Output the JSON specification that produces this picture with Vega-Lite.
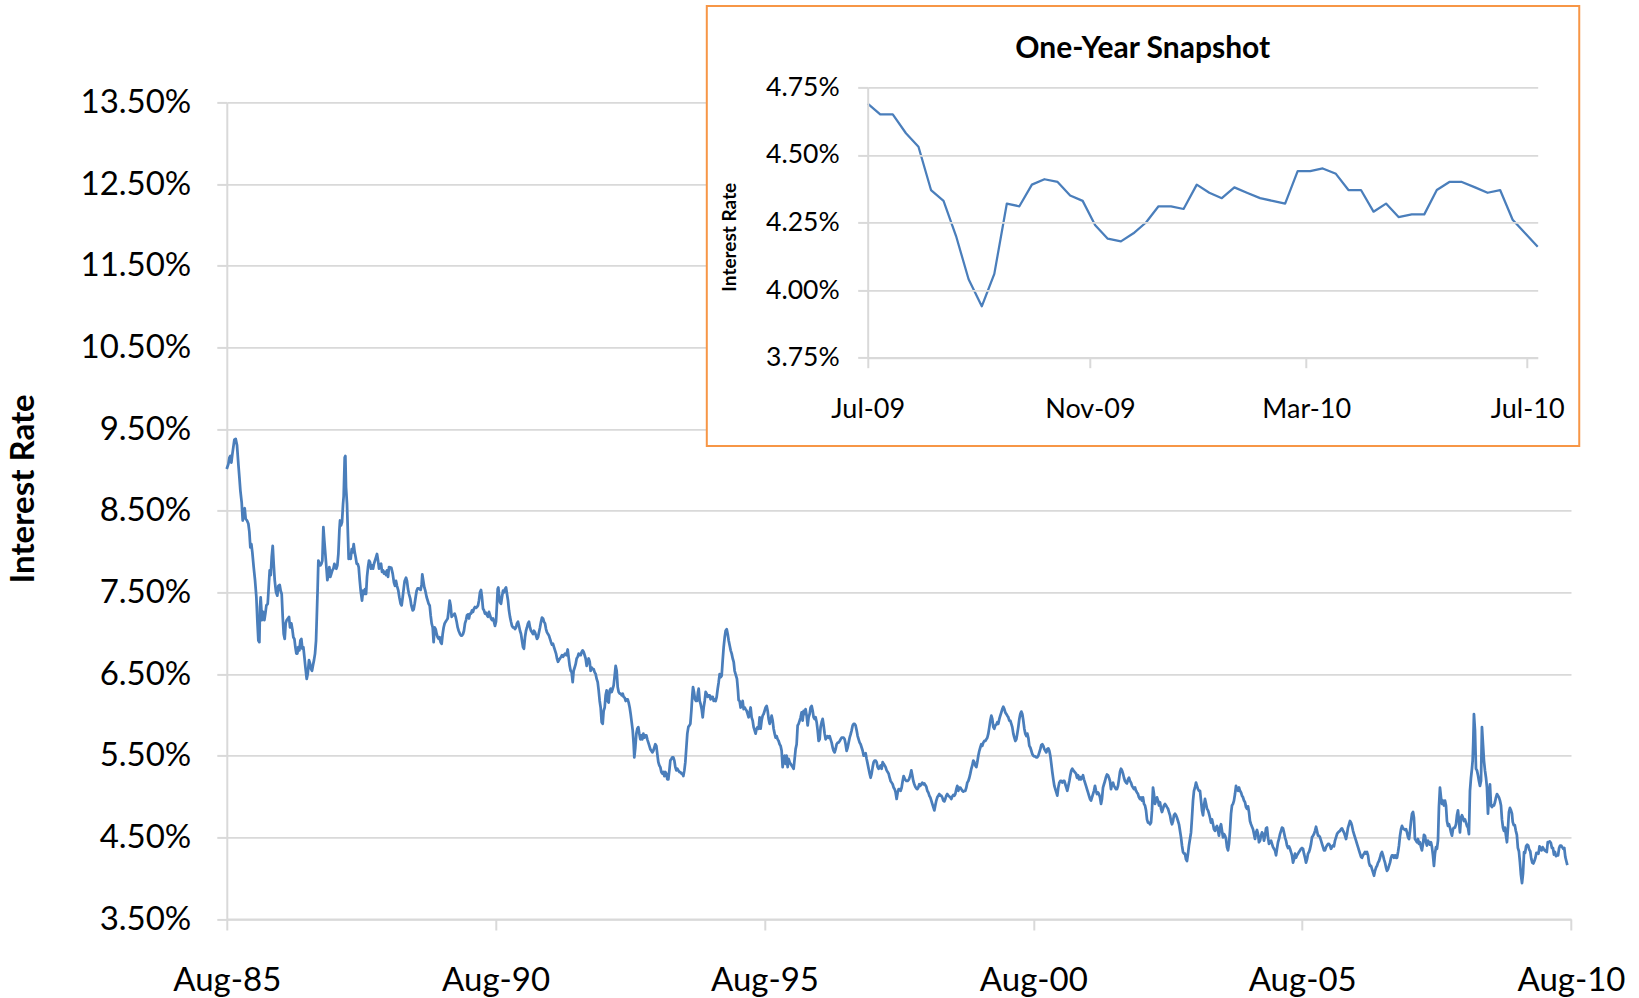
{
"$schema": "https://vega.github.io/schema/vega-lite/v6.json",
"width": 1344.2,
"height": 816.6,
"autosize": {"type": "none"},
"padding": {"left": 226.8, "top": 102.4, "right": 68, "bottom": 79},
"background": "white",
"config": {"view": {"stroke": null}, "axis": {"labelFont": "Lato", "titleFont": "Lato", "labelColor": "#000000", "titleColor": "#000000", "domainColor": "#D9D9D9", "tickColor": "#D9D9D9", "gridColor": "#D9D9D9"}},
"datasets": {"rates": [
{"t":1985.581,"r":9.01},{"t":1985.612,"r":9.07},{"t":1985.631,"r":9.15},{"t":1985.649,"r":9.17},{"t":1985.668,"r":9.09},{"t":1985.686,"r":9.19},{"t":1985.724,"r":9.37},{"t":1985.748,"r":9.38},{"t":1985.773,"r":9.30},{"t":1985.798,"r":9.07},{"t":1985.817,"r":8.91},{"t":1985.835,"r":8.75},{"t":1985.86,"r":8.60},{"t":1985.879,"r":8.38},{"t":1985.897,"r":8.50},{"t":1985.916,"r":8.53},{"t":1985.934,"r":8.40},{"t":1985.959,"r":8.38},{"t":1985.984,"r":8.34},{"t":1986.003,"r":8.24},{"t":1986.021,"r":8.05},{"t":1986.04,"r":8.09},{"t":1986.058,"r":7.99},{"t":1986.083,"r":7.81},{"t":1986.108,"r":7.65},{"t":1986.133,"r":7.44},{"t":1986.151,"r":7.16},{"t":1986.17,"r":6.91},{"t":1986.189,"r":6.89},{"t":1986.201,"r":7.32},{"t":1986.213,"r":7.44},{"t":1986.238,"r":7.16},{"t":1986.257,"r":7.26},{"t":1986.282,"r":7.16},{"t":1986.3,"r":7.24},{"t":1986.319,"r":7.34},{"t":1986.344,"r":7.36},{"t":1986.362,"r":7.56},{"t":1986.381,"r":7.77},{"t":1986.4,"r":7.71},{"t":1986.418,"r":7.93},{"t":1986.437,"r":8.07},{"t":1986.455,"r":7.85},{"t":1986.474,"r":7.65},{"t":1986.499,"r":7.50},{"t":1986.523,"r":7.46},{"t":1986.542,"r":7.58},{"t":1986.567,"r":7.59},{"t":1986.585,"r":7.52},{"t":1986.604,"r":7.48},{"t":1986.623,"r":7.20},{"t":1986.641,"r":6.99},{"t":1986.66,"r":6.93},{"t":1986.678,"r":7.12},{"t":1986.697,"r":7.16},{"t":1986.722,"r":7.18},{"t":1986.74,"r":7.20},{"t":1986.759,"r":7.07},{"t":1986.784,"r":7.12},{"t":1986.802,"r":7.05},{"t":1986.821,"r":6.95},{"t":1986.84,"r":6.93},{"t":1986.858,"r":6.83},{"t":1986.877,"r":6.75},{"t":1986.895,"r":6.75},{"t":1986.914,"r":6.83},{"t":1986.933,"r":6.79},{"t":1986.951,"r":6.91},{"t":1986.97,"r":6.93},{"t":1986.988,"r":6.81},{"t":1987.007,"r":6.83},{"t":1987.026,"r":6.71},{"t":1987.044,"r":6.59},{"t":1987.069,"r":6.44},{"t":1987.088,"r":6.50},{"t":1987.112,"r":6.67},{"t":1987.131,"r":6.63},{"t":1987.15,"r":6.56},{"t":1987.168,"r":6.54},{"t":1987.187,"r":6.61},{"t":1987.205,"r":6.67},{"t":1987.224,"r":6.75},{"t":1987.243,"r":6.91},{"t":1987.255,"r":7.16},{"t":1987.273,"r":7.56},{"t":1987.286,"r":7.89},{"t":1987.304,"r":7.85},{"t":1987.323,"r":7.83},{"t":1987.342,"r":7.85},{"t":1987.36,"r":7.89},{"t":1987.379,"r":8.30},{"t":1987.397,"r":8.13},{"t":1987.416,"r":7.97},{"t":1987.435,"r":7.81},{"t":1987.453,"r":7.65},{"t":1987.472,"r":7.71},{"t":1987.491,"r":7.81},{"t":1987.509,"r":7.69},{"t":1987.528,"r":7.73},{"t":1987.546,"r":7.77},{"t":1987.565,"r":7.79},{"t":1987.584,"r":7.85},{"t":1987.602,"r":7.81},{"t":1987.621,"r":7.79},{"t":1987.639,"r":7.83},{"t":1987.658,"r":7.97},{"t":1987.677,"r":8.26},{"t":1987.689,"r":8.38},{"t":1987.708,"r":8.32},{"t":1987.726,"r":8.36},{"t":1987.745,"r":8.58},{"t":1987.757,"r":8.68},{"t":1987.776,"r":9.15},{"t":1987.788,"r":9.17},{"t":1987.8,"r":8.79},{"t":1987.819,"r":8.58},{"t":1987.837,"r":8.18},{"t":1987.85,"r":7.91},{"t":1987.868,"r":7.97},{"t":1987.887,"r":7.91},{"t":1987.906,"r":8.03},{"t":1987.925,"r":7.99},{"t":1987.943,"r":8.09},{"t":1987.962,"r":7.99},{"t":1987.98,"r":7.93},{"t":1987.999,"r":7.85},{"t":1988.018,"r":7.85},{"t":1988.036,"r":7.81},{"t":1988.055,"r":7.65},{"t":1988.073,"r":7.52},{"t":1988.098,"r":7.40},{"t":1988.117,"r":7.52},{"t":1988.135,"r":7.48},{"t":1988.154,"r":7.54},{"t":1988.173,"r":7.48},{"t":1988.191,"r":7.69},{"t":1988.21,"r":7.81},{"t":1988.228,"r":7.89},{"t":1988.247,"r":7.87},{"t":1988.266,"r":7.79},{"t":1988.284,"r":7.83},{"t":1988.303,"r":7.79},{"t":1988.321,"r":7.85},{"t":1988.34,"r":7.89},{"t":1988.359,"r":7.93},{"t":1988.377,"r":7.97},{"t":1988.396,"r":7.89},{"t":1988.414,"r":7.79},{"t":1988.433,"r":7.83},{"t":1988.452,"r":7.85},{"t":1988.47,"r":7.75},{"t":1988.489,"r":7.77},{"t":1988.507,"r":7.73},{"t":1988.526,"r":7.75},{"t":1988.545,"r":7.71},{"t":1988.563,"r":7.77},{"t":1988.582,"r":7.69},{"t":1988.6,"r":7.81},
{"t":1988.643,"r":7.80},{"t":1988.668,"r":7.73},{"t":1988.692,"r":7.62},{"t":1988.711,"r":7.58},{"t":1988.73,"r":7.64},{"t":1988.748,"r":7.58},{"t":1988.773,"r":7.52},{"t":1988.792,"r":7.44},{"t":1988.816,"r":7.36},{"t":1988.835,"r":7.34},{"t":1988.854,"r":7.44},{"t":1988.872,"r":7.54},{"t":1988.891,"r":7.64},{"t":1988.916,"r":7.68},{"t":1988.934,"r":7.64},{"t":1988.953,"r":7.54},{"t":1988.971,"r":7.48},{"t":1988.996,"r":7.42},{"t":1989.015,"r":7.34},{"t":1989.04,"r":7.28},{"t":1989.058,"r":7.29},{"t":1989.077,"r":7.36},{"t":1989.095,"r":7.44},{"t":1989.114,"r":7.52},{"t":1989.133,"r":7.55},{"t":1989.151,"r":7.55},{"t":1989.17,"r":7.54},{"t":1989.188,"r":7.53},{"t":1989.207,"r":7.60},{"t":1989.219,"r":7.72},{"t":1989.238,"r":7.64},{"t":1989.257,"r":7.56},{"t":1989.275,"r":7.52},{"t":1989.3,"r":7.44},{"t":1989.319,"r":7.40},{"t":1989.337,"r":7.36},{"t":1989.356,"r":7.34},{"t":1989.374,"r":7.22},{"t":1989.393,"r":7.12},{"t":1989.412,"r":7.07},{"t":1989.43,"r":6.89},{"t":1989.449,"r":7.07},{"t":1989.467,"r":7.05},{"t":1989.486,"r":6.99},{"t":1989.505,"r":6.95},{"t":1989.523,"r":6.93},{"t":1989.542,"r":6.95},{"t":1989.56,"r":6.89},{"t":1989.579,"r":6.87},{"t":1989.598,"r":6.99},{"t":1989.616,"r":7.07},{"t":1989.635,"r":7.12},{"t":1989.653,"r":7.14},{"t":1989.672,"r":7.16},{"t":1989.691,"r":7.18},{"t":1989.709,"r":7.28},{"t":1989.728,"r":7.40},{"t":1989.746,"r":7.34},{"t":1989.765,"r":7.20},{"t":1989.784,"r":7.22},{"t":1989.802,"r":7.22},{"t":1989.821,"r":7.24},{"t":1989.839,"r":7.20},{"t":1989.858,"r":7.14},{"t":1989.877,"r":7.07},{"t":1989.895,"r":7.03},{"t":1989.92,"r":6.99},{"t":1989.939,"r":6.97},{"t":1989.957,"r":6.97},{"t":1989.976,"r":6.99},{"t":1989.994,"r":7.03},{"t":1990.013,"r":7.12},{"t":1990.032,"r":7.16},{"t":1990.05,"r":7.22},{"t":1990.069,"r":7.23},{"t":1990.087,"r":7.18},{"t":1990.106,"r":7.24},{"t":1990.125,"r":7.24},{"t":1990.143,"r":7.28},{"t":1990.162,"r":7.26},{"t":1990.18,"r":7.30},{"t":1990.199,"r":7.32},{"t":1990.218,"r":7.31},{"t":1990.236,"r":7.32},{"t":1990.255,"r":7.34},{"t":1990.273,"r":7.40},{"t":1990.292,"r":7.50},{"t":1990.311,"r":7.53},{"t":1990.329,"r":7.44},{"t":1990.348,"r":7.30},{"t":1990.366,"r":7.28},{"t":1990.385,"r":7.24},{"t":1990.404,"r":7.25},{"t":1990.422,"r":7.22},{"t":1990.441,"r":7.20},{"t":1990.459,"r":7.26},{"t":1990.478,"r":7.22},{"t":1990.497,"r":7.18},{"t":1990.515,"r":7.16},{"t":1990.534,"r":7.18},{"t":1990.552,"r":7.14},{"t":1990.571,"r":7.09},{"t":1990.59,"r":7.14},{"t":1990.608,"r":7.36},{"t":1990.621,"r":7.54},{"t":1990.633,"r":7.56},{"t":1990.645,"r":7.48},{"t":1990.664,"r":7.38},{"t":1990.683,"r":7.36},{"t":1990.701,"r":7.44},{"t":1990.72,"r":7.52},{"t":1990.738,"r":7.50},{"t":1990.757,"r":7.54},{"t":1990.776,"r":7.56},{"t":1990.794,"r":7.48},{"t":1990.813,"r":7.40},{"t":1990.831,"r":7.28},{"t":1990.85,"r":7.20},{"t":1990.869,"r":7.14},{"t":1990.887,"r":7.09},{"t":1990.906,"r":7.07},{"t":1990.924,"r":7.07},{"t":1990.943,"r":7.05},{"t":1990.962,"r":7.07},{"t":1990.98,"r":7.12},{"t":1990.999,"r":7.14},{"t":1991.017,"r":7.09},{"t":1991.036,"r":7.03},{"t":1991.055,"r":6.99},{"t":1991.073,"r":6.91},{"t":1991.092,"r":6.83},{"t":1991.11,"r":6.81},{"t":1991.129,"r":6.95},{"t":1991.148,"r":7.03},{"t":1991.166,"r":7.07},{"t":1991.185,"r":7.12},{"t":1991.203,"r":7.14},{"t":1991.222,"r":7.07},{"t":1991.241,"r":7.03},{"t":1991.259,"r":7.01},{"t":1991.278,"r":6.99},{"t":1991.296,"r":7.03},{"t":1991.315,"r":7.01},{"t":1991.334,"r":6.97},{"t":1991.352,"r":6.93},{"t":1991.371,"r":6.95},{"t":1991.389,"r":7.01},{"t":1991.408,"r":7.07},{"t":1991.427,"r":7.14},{"t":1991.445,"r":7.19},{"t":1991.464,"r":7.18},{"t":1991.482,"r":7.14},{"t":1991.501,"r":7.12},{"t":1991.52,"r":7.05},{"t":1991.538,"r":7.01},{"t":1991.557,"r":6.99},{"t":1991.575,"r":6.97},{"t":1991.594,"r":6.93},{"t":1991.613,"r":6.89},{"t":1991.631,"r":6.86},{"t":1991.65,"r":6.87},{"t":1991.668,"r":6.83},{"t":1991.687,"r":6.79},{"t":1991.706,"r":6.75},{"t":1991.724,"r":6.69},{"t":1991.743,"r":6.65},{"t":1991.761,"r":6.67},{"t":1991.78,"r":6.69},{"t":1991.799,"r":6.71},{"t":1991.817,"r":6.73},{"t":1991.836,"r":6.71},{"t":1991.854,"r":6.73},{"t":1991.873,"r":6.75},
{"t":1991.898,"r":6.73},{"t":1991.923,"r":6.80},{"t":1991.941,"r":6.70},{"t":1991.96,"r":6.60},{"t":1991.978,"r":6.54},{"t":1991.997,"r":6.52},{"t":1992.016,"r":6.40},{"t":1992.034,"r":6.54},{"t":1992.053,"r":6.58},{"t":1992.071,"r":6.62},{"t":1992.09,"r":6.69},{"t":1992.109,"r":6.71},{"t":1992.127,"r":6.75},{"t":1992.146,"r":6.73},{"t":1992.164,"r":6.73},{"t":1992.183,"r":6.77},{"t":1992.202,"r":6.79},{"t":1992.22,"r":6.77},{"t":1992.239,"r":6.73},{"t":1992.257,"r":6.69},{"t":1992.276,"r":6.60},{"t":1992.295,"r":6.65},{"t":1992.313,"r":6.69},{"t":1992.332,"r":6.65},{"t":1992.35,"r":6.54},{"t":1992.369,"r":6.58},{"t":1992.388,"r":6.56},{"t":1992.406,"r":6.56},{"t":1992.425,"r":6.52},{"t":1992.443,"r":6.50},{"t":1992.462,"r":6.44},{"t":1992.481,"r":6.40},{"t":1992.499,"r":6.30},{"t":1992.518,"r":6.17},{"t":1992.536,"r":6.09},{"t":1992.555,"r":5.91},{"t":1992.574,"r":5.89},{"t":1992.592,"r":6.05},{"t":1992.611,"r":6.09},{"t":1992.629,"r":6.24},{"t":1992.648,"r":6.30},{"t":1992.667,"r":6.17},{"t":1992.685,"r":6.15},{"t":1992.704,"r":6.30},{"t":1992.722,"r":6.32},{"t":1992.741,"r":6.28},{"t":1992.76,"r":6.32},{"t":1992.778,"r":6.36},{"t":1992.797,"r":6.48},{"t":1992.815,"r":6.60},{"t":1992.834,"r":6.54},{"t":1992.853,"r":6.34},{"t":1992.871,"r":6.28},{"t":1992.89,"r":6.26},{"t":1992.908,"r":6.26},{"t":1992.927,"r":6.24},{"t":1992.946,"r":6.26},{"t":1992.964,"r":6.22},{"t":1992.983,"r":6.21},{"t":1993.001,"r":6.17},{"t":1993.02,"r":6.19},{"t":1993.039,"r":6.19},{"t":1993.057,"r":6.15},{"t":1993.076,"r":6.09},{"t":1993.094,"r":6.01},{"t":1993.113,"r":5.91},{"t":1993.132,"r":5.81},{"t":1993.15,"r":5.64},{"t":1993.162,"r":5.48},{"t":1993.181,"r":5.60},{"t":1993.2,"r":5.77},{"t":1993.218,"r":5.83},{"t":1993.237,"r":5.85},{"t":1993.255,"r":5.77},{"t":1993.274,"r":5.70},{"t":1993.293,"r":5.75},{"t":1993.311,"r":5.70},{"t":1993.33,"r":5.77},{"t":1993.348,"r":5.72},{"t":1993.367,"r":5.75},{"t":1993.386,"r":5.75},{"t":1993.404,"r":5.70},{"t":1993.423,"r":5.66},{"t":1993.442,"r":5.62},{"t":1993.46,"r":5.58},{"t":1993.479,"r":5.56},{"t":1993.497,"r":5.54},{"t":1993.516,"r":5.56},{"t":1993.535,"r":5.60},{"t":1993.553,"r":5.64},{"t":1993.572,"r":5.62},{"t":1993.59,"r":5.52},{"t":1993.609,"r":5.42},{"t":1993.628,"r":5.38},{"t":1993.646,"r":5.36},{"t":1993.665,"r":5.30},{"t":1993.683,"r":5.28},{"t":1993.702,"r":5.30},{"t":1993.721,"r":5.25},{"t":1993.739,"r":5.30},{"t":1993.758,"r":5.28},{"t":1993.776,"r":5.21},{"t":1993.795,"r":5.21},{"t":1993.814,"r":5.32},{"t":1993.832,"r":5.44},{"t":1993.851,"r":5.46},{"t":1993.869,"r":5.48},{"t":1993.888,"r":5.48},{"t":1993.907,"r":5.44},{"t":1993.925,"r":5.36},{"t":1993.944,"r":5.32},{"t":1993.962,"r":5.34},{"t":1993.981,"r":5.32},{"t":1994.0,"r":5.30},{"t":1994.018,"r":5.30},{"t":1994.037,"r":5.28},{"t":1994.055,"r":5.28},{"t":1994.074,"r":5.25},{"t":1994.093,"r":5.32},{"t":1994.111,"r":5.42},{"t":1994.13,"r":5.60},{"t":1994.148,"r":5.77},{"t":1994.167,"r":5.85},{"t":1994.186,"r":5.87},{"t":1994.204,"r":5.89},{"t":1994.223,"r":6.05},{"t":1994.241,"r":6.24},{"t":1994.254,"r":6.34},{"t":1994.272,"r":6.28},{"t":1994.291,"r":6.19},{"t":1994.31,"r":6.17},{"t":1994.328,"r":6.17},{"t":1994.347,"r":6.28},{"t":1994.359,"r":6.32},{"t":1994.378,"r":6.17},{"t":1994.396,"r":6.13},{"t":1994.415,"r":6.07},{"t":1994.434,"r":5.97},{"t":1994.452,"r":6.09},{"t":1994.471,"r":6.17},{"t":1994.489,"r":6.28},{"t":1994.508,"r":6.26},{"t":1994.527,"r":6.22},{"t":1994.545,"r":6.24},{"t":1994.564,"r":6.24},{"t":1994.582,"r":6.19},{"t":1994.601,"r":6.22},{"t":1994.62,"r":6.22},{"t":1994.638,"r":6.17},{"t":1994.657,"r":6.19},{"t":1994.675,"r":6.17},{"t":1994.694,"r":6.22},{"t":1994.713,"r":6.32},{"t":1994.731,"r":6.40},{"t":1994.75,"r":6.50},{"t":1994.768,"r":6.46},{"t":1994.787,"r":6.48},{"t":1994.806,"r":6.67},{"t":1994.824,"r":6.83},{"t":1994.843,"r":6.95},{"t":1994.861,"r":7.03},{"t":1994.88,"r":7.05},{"t":1994.899,"r":6.99},{"t":1994.917,"r":6.91},{"t":1994.936,"r":6.85},{"t":1994.954,"r":6.79},{"t":1994.973,"r":6.75},{"t":1994.992,"r":6.69},{"t":1995.01,"r":6.65},{"t":1995.028,"r":6.54},
{"t":1995.071,"r":6.44},{"t":1995.09,"r":6.30},{"t":1995.102,"r":6.18},{"t":1995.121,"r":6.17},{"t":1995.139,"r":6.09},{"t":1995.158,"r":6.11},{"t":1995.177,"r":6.17},{"t":1995.195,"r":6.07},{"t":1995.214,"r":6.09},{"t":1995.232,"r":6.07},{"t":1995.251,"r":6.05},{"t":1995.27,"r":6.01},{"t":1995.288,"r":5.97},{"t":1995.307,"r":6.03},{"t":1995.325,"r":6.09},{"t":1995.344,"r":5.97},{"t":1995.363,"r":5.93},{"t":1995.381,"r":5.85},{"t":1995.4,"r":5.81},{"t":1995.418,"r":5.77},{"t":1995.437,"r":5.83},{"t":1995.456,"r":5.85},{"t":1995.474,"r":5.83},{"t":1995.493,"r":5.97},{"t":1995.511,"r":5.83},{"t":1995.53,"r":5.93},{"t":1995.549,"r":5.99},{"t":1995.567,"r":6.01},{"t":1995.586,"r":6.05},{"t":1995.604,"r":6.09},{"t":1995.623,"r":6.11},{"t":1995.642,"r":6.05},{"t":1995.66,"r":5.95},{"t":1995.679,"r":5.89},{"t":1995.697,"r":5.93},{"t":1995.716,"r":5.99},{"t":1995.735,"r":5.93},{"t":1995.753,"r":5.83},{"t":1995.772,"r":5.77},{"t":1995.79,"r":5.72},{"t":1995.809,"r":5.74},{"t":1995.828,"r":5.70},{"t":1995.846,"r":5.68},{"t":1995.865,"r":5.64},{"t":1995.883,"r":5.62},{"t":1995.902,"r":5.56},{"t":1995.921,"r":5.36},{"t":1995.939,"r":5.48},{"t":1995.958,"r":5.50},{"t":1995.976,"r":5.40},{"t":1995.995,"r":5.50},{"t":1996.014,"r":5.36},{"t":1996.032,"r":5.46},{"t":1996.051,"r":5.42},{"t":1996.069,"r":5.40},{"t":1996.088,"r":5.38},{"t":1996.107,"r":5.36},{"t":1996.125,"r":5.34},{"t":1996.144,"r":5.46},{"t":1996.162,"r":5.58},{"t":1996.181,"r":5.64},{"t":1996.2,"r":5.87},{"t":1996.218,"r":5.89},{"t":1996.237,"r":5.93},{"t":1996.255,"r":5.97},{"t":1996.274,"r":6.03},{"t":1996.293,"r":5.93},{"t":1996.311,"r":6.05},{"t":1996.33,"r":6.01},{"t":1996.348,"r":6.07},{"t":1996.367,"r":5.99},{"t":1996.386,"r":5.87},{"t":1996.404,"r":5.97},{"t":1996.423,"r":6.01},{"t":1996.441,"r":6.09},{"t":1996.46,"r":6.11},{"t":1996.479,"r":6.05},{"t":1996.497,"r":5.97},{"t":1996.516,"r":5.95},{"t":1996.534,"r":5.97},{"t":1996.553,"r":5.91},{"t":1996.572,"r":5.81},{"t":1996.59,"r":5.68},{"t":1996.609,"r":5.70},{"t":1996.627,"r":5.85},{"t":1996.646,"r":5.91},{"t":1996.665,"r":5.95},{"t":1996.683,"r":5.87},{"t":1996.702,"r":5.77},{"t":1996.72,"r":5.70},{"t":1996.739,"r":5.72},{"t":1996.758,"r":5.74},{"t":1996.776,"r":5.72},{"t":1996.795,"r":5.74},{"t":1996.813,"r":5.70},{"t":1996.832,"r":5.66},{"t":1996.851,"r":5.60},{"t":1996.869,"r":5.56},{"t":1996.888,"r":5.54},{"t":1996.906,"r":5.58},{"t":1996.925,"r":5.64},{"t":1996.944,"r":5.66},{"t":1996.962,"r":5.66},{"t":1996.981,"r":5.68},{"t":1996.999,"r":5.70},{"t":1997.018,"r":5.72},{"t":1997.037,"r":5.72},{"t":1997.055,"r":5.72},{"t":1997.074,"r":5.70},{"t":1997.092,"r":5.64},{"t":1997.111,"r":5.56},{"t":1997.13,"r":5.60},{"t":1997.148,"r":5.66},{"t":1997.167,"r":5.72},{"t":1997.185,"r":5.76},{"t":1997.204,"r":5.81},{"t":1997.223,"r":5.87},{"t":1997.241,"r":5.89},{"t":1997.26,"r":5.89},{"t":1997.278,"r":5.87},{"t":1997.297,"r":5.81},{"t":1997.316,"r":5.74},{"t":1997.334,"r":5.70},{"t":1997.353,"r":5.66},{"t":1997.371,"r":5.64},{"t":1997.39,"r":5.60},{"t":1997.409,"r":5.56},{"t":1997.427,"r":5.50},{"t":1997.446,"r":5.52},{"t":1997.464,"r":5.53},{"t":1997.483,"r":5.46},{"t":1997.502,"r":5.40},{"t":1997.52,"r":5.34},{"t":1997.539,"r":5.28},{"t":1997.557,"r":5.23},{"t":1997.576,"r":5.28},{"t":1997.595,"r":5.36},{"t":1997.613,"r":5.42},{"t":1997.632,"r":5.44},{"t":1997.65,"r":5.44},{"t":1997.669,"r":5.42},{"t":1997.688,"r":5.36},{"t":1997.706,"r":5.34},{"t":1997.725,"r":5.36},{"t":1997.743,"r":5.38},{"t":1997.762,"r":5.34},{"t":1997.781,"r":5.42},{"t":1997.799,"r":5.40},{"t":1997.818,"r":5.38},{"t":1997.836,"r":5.36},{"t":1997.855,"r":5.32},{"t":1997.874,"r":5.30},{"t":1997.892,"r":5.28},{"t":1997.911,"r":5.23},{"t":1997.929,"r":5.19},{"t":1997.948,"r":5.17},{"t":1997.967,"r":5.15},{"t":1997.985,"r":5.11},{"t":1998.004,"r":5.09},{"t":1998.022,"r":5.05},{"t":1998.041,"r":4.97},{"t":1998.06,"r":5.05},{"t":1998.078,"r":5.09},{"t":1998.097,"r":5.09},{"t":1998.115,"r":5.07},{"t":1998.134,"r":5.11},{"t":1998.153,"r":5.19},{"t":1998.171,"r":5.25},
{"t":1998.196,"r":5.21},{"t":1998.221,"r":5.19},{"t":1998.246,"r":5.19},{"t":1998.27,"r":5.21},{"t":1998.295,"r":5.26},{"t":1998.314,"r":5.32},{"t":1998.332,"r":5.26},{"t":1998.351,"r":5.19},{"t":1998.37,"r":5.15},{"t":1998.388,"r":5.12},{"t":1998.407,"r":5.10},{"t":1998.425,"r":5.09},{"t":1998.444,"r":5.11},{"t":1998.463,"r":5.15},{"t":1998.481,"r":5.13},{"t":1998.5,"r":5.15},{"t":1998.518,"r":5.17},{"t":1998.537,"r":5.15},{"t":1998.556,"r":5.16},{"t":1998.574,"r":5.14},{"t":1998.593,"r":5.12},{"t":1998.611,"r":5.07},{"t":1998.63,"r":5.05},{"t":1998.649,"r":5.01},{"t":1998.667,"r":4.99},{"t":1998.686,"r":4.95},{"t":1998.704,"r":4.91},{"t":1998.723,"r":4.87},{"t":1998.742,"r":4.83},{"t":1998.76,"r":4.89},{"t":1998.779,"r":4.95},{"t":1998.797,"r":4.99},{"t":1998.816,"r":5.01},{"t":1998.835,"r":5.03},{"t":1998.853,"r":5.01},{"t":1998.872,"r":5.01},{"t":1998.89,"r":4.99},{"t":1998.909,"r":4.95},{"t":1998.928,"r":4.94},{"t":1998.946,"r":4.97},{"t":1998.965,"r":5.01},{"t":1998.983,"r":5.03},{"t":1999.002,"r":5.01},{"t":1999.021,"r":5.00},{"t":1999.039,"r":4.99},{"t":1999.058,"r":4.97},{"t":1999.076,"r":5.00},{"t":1999.095,"r":5.02},{"t":1999.114,"r":5.01},{"t":1999.132,"r":5.03},{"t":1999.151,"r":5.09},{"t":1999.169,"r":5.13},{"t":1999.188,"r":5.07},{"t":1999.207,"r":5.11},{"t":1999.225,"r":5.11},{"t":1999.244,"r":5.09},{"t":1999.262,"r":5.07},{"t":1999.281,"r":5.06},{"t":1999.3,"r":5.07},{"t":1999.318,"r":5.07},{"t":1999.337,"r":5.11},{"t":1999.355,"r":5.17},{"t":1999.374,"r":5.19},{"t":1999.393,"r":5.23},{"t":1999.411,"r":5.28},{"t":1999.43,"r":5.34},{"t":1999.448,"r":5.38},{"t":1999.467,"r":5.44},{"t":1999.486,"r":5.42},{"t":1999.504,"r":5.38},{"t":1999.523,"r":5.36},{"t":1999.541,"r":5.42},{"t":1999.56,"r":5.50},{"t":1999.579,"r":5.56},{"t":1999.597,"r":5.60},{"t":1999.616,"r":5.64},{"t":1999.634,"r":5.62},{"t":1999.653,"r":5.66},{"t":1999.672,"r":5.68},{"t":1999.69,"r":5.68},{"t":1999.709,"r":5.70},{"t":1999.727,"r":5.72},{"t":1999.746,"r":5.77},{"t":1999.765,"r":5.85},{"t":1999.783,"r":5.93},{"t":1999.802,"r":5.99},{"t":1999.82,"r":5.95},{"t":1999.839,"r":5.85},{"t":1999.858,"r":5.83},{"t":1999.876,"r":5.87},{"t":1999.895,"r":5.88},{"t":1999.913,"r":5.91},{"t":1999.932,"r":5.89},{"t":1999.951,"r":5.95},{"t":1999.969,"r":5.99},{"t":1999.988,"r":6.03},{"t":2000.006,"r":6.07},{"t":2000.025,"r":6.10},{"t":2000.044,"r":6.07},{"t":2000.062,"r":6.03},{"t":2000.081,"r":6.01},{"t":2000.099,"r":5.99},{"t":2000.118,"r":5.97},{"t":2000.137,"r":5.93},{"t":2000.155,"r":5.93},{"t":2000.174,"r":5.89},{"t":2000.192,"r":5.85},{"t":2000.211,"r":5.77},{"t":2000.23,"r":5.72},{"t":2000.248,"r":5.68},{"t":2000.267,"r":5.70},{"t":2000.285,"r":5.77},{"t":2000.304,"r":5.85},{"t":2000.323,"r":5.95},{"t":2000.341,"r":6.01},{"t":2000.36,"r":6.04},{"t":2000.378,"r":6.01},{"t":2000.397,"r":5.93},{"t":2000.416,"r":5.83},{"t":2000.434,"r":5.77},{"t":2000.453,"r":5.74},{"t":2000.471,"r":5.77},{"t":2000.49,"r":5.72},{"t":2000.509,"r":5.62},{"t":2000.527,"r":5.60},{"t":2000.546,"r":5.56},{"t":2000.564,"r":5.52},{"t":2000.583,"r":5.50},{"t":2000.602,"r":5.49},{"t":2000.62,"r":5.49},{"t":2000.639,"r":5.48},{"t":2000.657,"r":5.48},{"t":2000.676,"r":5.50},{"t":2000.695,"r":5.54},{"t":2000.713,"r":5.58},{"t":2000.732,"r":5.63},{"t":2000.75,"r":5.64},{"t":2000.769,"r":5.62},{"t":2000.788,"r":5.58},{"t":2000.806,"r":5.56},{"t":2000.825,"r":5.54},{"t":2000.843,"r":5.58},{"t":2000.862,"r":5.59},{"t":2000.881,"r":5.56},{"t":2000.899,"r":5.50},{"t":2000.918,"r":5.40},{"t":2000.936,"r":5.30},{"t":2000.955,"r":5.21},{"t":2000.974,"r":5.13},{"t":2000.992,"r":5.09},{"t":2001.011,"r":5.05},{"t":2001.029,"r":5.01},{"t":2001.048,"r":5.11},{"t":2001.067,"r":5.17},{"t":2001.085,"r":5.19},{"t":2001.104,"r":5.19},{"t":2001.122,"r":5.17},{"t":2001.141,"r":5.19},{"t":2001.16,"r":5.19},{"t":2001.178,"r":5.15},{"t":2001.197,"r":5.11},{"t":2001.215,"r":5.07},{"t":2001.234,"r":5.13},{"t":2001.253,"r":5.19},{"t":2001.271,"r":5.26},{"t":2001.29,"r":5.32},{"t":2001.308,"r":5.34},{"t":2001.327,"r":5.32},
{"t":2001.377,"r":5.28},{"t":2001.395,"r":5.23},{"t":2001.414,"r":5.26},{"t":2001.432,"r":5.21},{"t":2001.451,"r":5.24},{"t":2001.47,"r":5.21},{"t":2001.488,"r":5.23},{"t":2001.507,"r":5.26},{"t":2001.525,"r":5.21},{"t":2001.544,"r":5.17},{"t":2001.563,"r":5.13},{"t":2001.581,"r":5.09},{"t":2001.6,"r":5.05},{"t":2001.618,"r":5.01},{"t":2001.637,"r":4.97},{"t":2001.656,"r":4.95},{"t":2001.674,"r":4.99},{"t":2001.693,"r":5.03},{"t":2001.711,"r":5.07},{"t":2001.73,"r":5.13},{"t":2001.749,"r":5.07},{"t":2001.767,"r":5.03},{"t":2001.786,"r":5.05},{"t":2001.804,"r":5.03},{"t":2001.823,"r":4.99},{"t":2001.842,"r":4.91},{"t":2001.86,"r":4.97},{"t":2001.879,"r":5.11},{"t":2001.897,"r":5.15},{"t":2001.916,"r":5.19},{"t":2001.935,"r":5.24},{"t":2001.953,"r":5.27},{"t":2001.972,"r":5.26},{"t":2001.99,"r":5.23},{"t":2002.009,"r":5.19},{"t":2002.028,"r":5.09},{"t":2002.046,"r":5.15},{"t":2002.065,"r":5.17},{"t":2002.083,"r":5.13},{"t":2002.102,"r":5.11},{"t":2002.121,"r":5.09},{"t":2002.139,"r":5.09},{"t":2002.158,"r":5.13},{"t":2002.176,"r":5.21},{"t":2002.195,"r":5.30},{"t":2002.214,"r":5.34},{"t":2002.232,"r":5.32},{"t":2002.251,"r":5.28},{"t":2002.269,"r":5.23},{"t":2002.288,"r":5.19},{"t":2002.307,"r":5.17},{"t":2002.325,"r":5.16},{"t":2002.344,"r":5.21},{"t":2002.362,"r":5.23},{"t":2002.381,"r":5.19},{"t":2002.4,"r":5.17},{"t":2002.418,"r":5.13},{"t":2002.437,"r":5.11},{"t":2002.455,"r":5.09},{"t":2002.474,"r":5.11},{"t":2002.493,"r":5.07},{"t":2002.511,"r":5.05},{"t":2002.53,"r":5.03},{"t":2002.548,"r":4.99},{"t":2002.567,"r":4.97},{"t":2002.586,"r":4.99},{"t":2002.604,"r":4.95},{"t":2002.623,"r":4.99},{"t":2002.641,"r":4.91},{"t":2002.66,"r":4.89},{"t":2002.679,"r":4.83},{"t":2002.697,"r":4.72},{"t":2002.716,"r":4.68},{"t":2002.734,"r":4.68},{"t":2002.753,"r":4.66},{"t":2002.772,"r":4.68},{"t":2002.79,"r":4.83},{"t":2002.809,"r":5.11},{"t":2002.827,"r":5.03},{"t":2002.846,"r":4.91},{"t":2002.865,"r":4.95},{"t":2002.883,"r":4.99},{"t":2002.902,"r":4.95},{"t":2002.92,"r":4.89},{"t":2002.939,"r":4.93},{"t":2002.958,"r":4.85},{"t":2002.976,"r":4.81},{"t":2002.995,"r":4.85},{"t":2003.013,"r":4.89},{"t":2003.032,"r":4.91},{"t":2003.051,"r":4.89},{"t":2003.069,"r":4.87},{"t":2003.088,"r":4.85},{"t":2003.106,"r":4.81},{"t":2003.125,"r":4.77},{"t":2003.144,"r":4.70},{"t":2003.162,"r":4.66},{"t":2003.181,"r":4.70},{"t":2003.199,"r":4.77},{"t":2003.218,"r":4.79},{"t":2003.237,"r":4.77},{"t":2003.255,"r":4.74},{"t":2003.274,"r":4.70},{"t":2003.292,"r":4.66},{"t":2003.311,"r":4.58},{"t":2003.33,"r":4.50},{"t":2003.348,"r":4.40},{"t":2003.367,"r":4.32},{"t":2003.385,"r":4.30},{"t":2003.404,"r":4.30},{"t":2003.423,"r":4.23},{"t":2003.441,"r":4.21},{"t":2003.46,"r":4.30},{"t":2003.478,"r":4.40},{"t":2003.497,"r":4.48},{"t":2003.516,"r":4.56},{"t":2003.534,"r":4.74},{"t":2003.553,"r":4.95},{"t":2003.571,"r":5.07},{"t":2003.59,"r":5.11},{"t":2003.609,"r":5.17},{"t":2003.627,"r":5.13},{"t":2003.646,"r":5.09},{"t":2003.664,"r":5.07},{"t":2003.683,"r":5.07},{"t":2003.702,"r":4.95},{"t":2003.72,"r":4.83},{"t":2003.739,"r":4.77},{"t":2003.757,"r":4.89},{"t":2003.776,"r":4.97},{"t":2003.795,"r":4.91},{"t":2003.813,"r":4.85},{"t":2003.832,"r":4.83},{"t":2003.85,"r":4.79},{"t":2003.869,"r":4.74},{"t":2003.888,"r":4.68},{"t":2003.906,"r":4.72},{"t":2003.925,"r":4.66},{"t":2003.943,"r":4.60},{"t":2003.962,"r":4.58},{"t":2003.981,"r":4.62},{"t":2003.999,"r":4.64},{"t":2004.018,"r":4.58},{"t":2004.036,"r":4.52},{"t":2004.055,"r":4.62},{"t":2004.074,"r":4.66},{"t":2004.092,"r":4.58},{"t":2004.111,"r":4.50},{"t":2004.129,"r":4.54},{"t":2004.148,"r":4.52},{"t":2004.167,"r":4.48},{"t":2004.185,"r":4.38},{"t":2004.204,"r":4.34},{"t":2004.222,"r":4.42},{"t":2004.241,"r":4.58},{"t":2004.26,"r":4.79},{"t":2004.278,"r":4.89},{"t":2004.297,"r":4.91},{"t":2004.315,"r":4.95},{"t":2004.334,"r":5.03},{"t":2004.353,"r":5.13},{"t":2004.371,"r":5.09},{"t":2004.39,"r":5.07},{"t":2004.408,"r":5.11},{"t":2004.427,"r":5.07},{"t":2004.446,"r":5.05},{"t":2004.464,"r":5.01},{"t":2004.483,"r":4.99},{"t":2004.501,"r":4.95},
{"t":2004.52,"r":4.93},{"t":2004.539,"r":4.87},{"t":2004.557,"r":4.85},{"t":2004.576,"r":4.88},{"t":2004.594,"r":4.81},{"t":2004.613,"r":4.70},{"t":2004.632,"r":4.66},{"t":2004.65,"r":4.63},{"t":2004.669,"r":4.60},{"t":2004.687,"r":4.54},{"t":2004.706,"r":4.48},{"t":2004.725,"r":4.56},{"t":2004.743,"r":4.59},{"t":2004.762,"r":4.54},{"t":2004.78,"r":4.44},{"t":2004.799,"r":4.46},{"t":2004.818,"r":4.52},{"t":2004.836,"r":4.56},{"t":2004.855,"r":4.54},{"t":2004.873,"r":4.46},{"t":2004.892,"r":4.52},{"t":2004.911,"r":4.61},{"t":2004.929,"r":4.62},{"t":2004.948,"r":4.50},{"t":2004.966,"r":4.42},{"t":2004.985,"r":4.44},{"t":2005.004,"r":4.46},{"t":2005.022,"r":4.42},{"t":2005.041,"r":4.38},{"t":2005.059,"r":4.36},{"t":2005.078,"r":4.34},{"t":2005.097,"r":4.28},{"t":2005.115,"r":4.36},{"t":2005.134,"r":4.44},{"t":2005.152,"r":4.48},{"t":2005.171,"r":4.54},{"t":2005.19,"r":4.58},{"t":2005.208,"r":4.62},{"t":2005.227,"r":4.61},{"t":2005.245,"r":4.56},{"t":2005.264,"r":4.50},{"t":2005.283,"r":4.46},{"t":2005.301,"r":4.40},{"t":2005.32,"r":4.37},{"t":2005.338,"r":4.39},{"t":2005.357,"r":4.36},{"t":2005.376,"r":4.32},{"t":2005.394,"r":4.28},{"t":2005.413,"r":4.19},{"t":2005.431,"r":4.23},{"t":2005.45,"r":4.30},{"t":2005.469,"r":4.25},{"t":2005.487,"r":4.28},{"t":2005.506,"r":4.30},{"t":2005.524,"r":4.32},{"t":2005.543,"r":4.34},{"t":2005.562,"r":4.36},{"t":2005.58,"r":4.37},{"t":2005.599,"r":4.36},{"t":2005.617,"r":4.30},{"t":2005.636,"r":4.25},{"t":2005.655,"r":4.19},{"t":2005.673,"r":4.23},{"t":2005.692,"r":4.30},{"t":2005.71,"r":4.32},{"t":2005.729,"r":4.36},{"t":2005.748,"r":4.42},{"t":2005.766,"r":4.50},{"t":2005.785,"r":4.52},{"t":2005.803,"r":4.54},{"t":2005.822,"r":4.58},{"t":2005.841,"r":4.63},{"t":2005.859,"r":4.58},{"t":2005.878,"r":4.52},{"t":2005.896,"r":4.52},{"t":2005.915,"r":4.50},{"t":2005.934,"r":4.46},{"t":2005.952,"r":4.42},{"t":2005.971,"r":4.38},{"t":2005.989,"r":4.34},{"t":2006.008,"r":4.34},{"t":2006.027,"r":4.38},{"t":2006.045,"r":4.40},{"t":2006.064,"r":4.42},{"t":2006.082,"r":4.42},{"t":2006.101,"r":4.40},{"t":2006.12,"r":4.36},{"t":2006.138,"r":4.38},{"t":2006.157,"r":4.40},{"t":2006.175,"r":4.39},{"t":2006.194,"r":4.46},{"t":2006.213,"r":4.50},{"t":2006.231,"r":4.54},{"t":2006.25,"r":4.56},{"t":2006.268,"r":4.57},{"t":2006.287,"r":4.58},{"t":2006.306,"r":4.60},{"t":2006.324,"r":4.61},{"t":2006.343,"r":4.58},{"t":2006.361,"r":4.56},{"t":2006.38,"r":4.52},{"t":2006.399,"r":4.48},{"t":2006.417,"r":4.54},{"t":2006.436,"r":4.62},{"t":2006.454,"r":4.66},{"t":2006.473,"r":4.70},{"t":2006.492,"r":4.68},{"t":2006.51,"r":4.64},{"t":2006.529,"r":4.58},{"t":2006.547,"r":4.54},{"t":2006.566,"r":4.50},{"t":2006.585,"r":4.46},{"t":2006.603,"r":4.42},{"t":2006.622,"r":4.38},{"t":2006.64,"r":4.34},{"t":2006.659,"r":4.30},{"t":2006.678,"r":4.26},{"t":2006.696,"r":4.25},{"t":2006.715,"r":4.28},{"t":2006.733,"r":4.30},{"t":2006.752,"r":4.32},{"t":2006.771,"r":4.30},{"t":2006.789,"r":4.32},{"t":2006.808,"r":4.28},{"t":2006.826,"r":4.19},{"t":2006.845,"r":4.15},{"t":2006.864,"r":4.15},{"t":2006.882,"r":4.11},{"t":2006.901,"r":4.07},{"t":2006.919,"r":4.03},{"t":2006.938,"r":4.09},{"t":2006.957,"r":4.13},{"t":2006.975,"r":4.15},{"t":2006.994,"r":4.19},{"t":2007.012,"r":4.21},{"t":2007.031,"r":4.25},{"t":2007.05,"r":4.30},{"t":2007.068,"r":4.32},{"t":2007.087,"r":4.28},{"t":2007.105,"r":4.23},{"t":2007.124,"r":4.19},{"t":2007.143,"r":4.13},{"t":2007.161,"r":4.09},{"t":2007.18,"r":4.11},{"t":2007.198,"r":4.15},{"t":2007.217,"r":4.19},{"t":2007.236,"r":4.25},{"t":2007.254,"r":4.28},{"t":2007.273,"r":4.28},{"t":2007.291,"r":4.25},{"t":2007.31,"r":4.28},{"t":2007.329,"r":4.25},{"t":2007.347,"r":4.25},{"t":2007.366,"r":4.32},{"t":2007.384,"r":4.40},{"t":2007.403,"r":4.52},{"t":2007.422,"r":4.60},{"t":2007.44,"r":4.64},{"t":2007.459,"r":4.61},{"t":2007.477,"r":4.60},{"t":2007.496,"r":4.59},{"t":2007.515,"r":4.60},{"t":2007.533,"r":4.56},{"t":2007.552,"r":4.50},{"t":2007.57,"r":4.48},{"t":2007.589,"r":4.58},{"t":2007.608,"r":4.70},{"t":2007.626,"r":4.79},{"t":2007.645,"r":4.81},
{"t":2007.662,"r":4.74},{"t":2007.681,"r":4.48},{"t":2007.7,"r":4.46},{"t":2007.718,"r":4.44},{"t":2007.737,"r":4.48},{"t":2007.755,"r":4.42},{"t":2007.774,"r":4.44},{"t":2007.793,"r":4.38},{"t":2007.811,"r":4.34},{"t":2007.83,"r":4.42},{"t":2007.848,"r":4.53},{"t":2007.867,"r":4.52},{"t":2007.886,"r":4.44},{"t":2007.904,"r":4.40},{"t":2007.923,"r":4.46},{"t":2007.941,"r":4.44},{"t":2007.96,"r":4.41},{"t":2007.979,"r":4.44},{"t":2007.997,"r":4.38},{"t":2008.016,"r":4.28},{"t":2008.034,"r":4.15},{"t":2008.053,"r":4.30},{"t":2008.072,"r":4.38},{"t":2008.09,"r":4.36},{"t":2008.109,"r":4.46},{"t":2008.127,"r":4.87},{"t":2008.146,"r":5.11},{"t":2008.165,"r":4.99},{"t":2008.183,"r":4.91},{"t":2008.202,"r":4.95},{"t":2008.22,"r":4.89},{"t":2008.239,"r":4.95},{"t":2008.258,"r":4.89},{"t":2008.276,"r":4.70},{"t":2008.295,"r":4.64},{"t":2008.313,"r":4.66},{"t":2008.332,"r":4.62},{"t":2008.351,"r":4.56},{"t":2008.369,"r":4.52},{"t":2008.388,"r":4.60},{"t":2008.406,"r":4.62},{"t":2008.425,"r":4.62},{"t":2008.444,"r":4.66},{"t":2008.462,"r":4.77},{"t":2008.481,"r":4.83},{"t":2008.499,"r":4.70},{"t":2008.518,"r":4.56},{"t":2008.537,"r":4.74},{"t":2008.555,"r":4.77},{"t":2008.574,"r":4.74},{"t":2008.592,"r":4.70},{"t":2008.611,"r":4.72},{"t":2008.63,"r":4.68},{"t":2008.648,"r":4.64},{"t":2008.667,"r":4.62},{"t":2008.685,"r":4.54},{"t":2008.704,"r":5.07},{"t":2008.723,"r":5.23},{"t":2008.741,"r":5.34},{"t":2008.754,"r":5.44},{"t":2008.766,"r":5.68},{"t":2008.778,"r":6.01},{"t":2008.797,"r":5.81},{"t":2008.816,"r":5.34},{"t":2008.834,"r":5.32},{"t":2008.853,"r":5.26},{"t":2008.871,"r":5.19},{"t":2008.89,"r":5.13},{"t":2008.909,"r":5.19},{"t":2008.927,"r":5.85},{"t":2008.946,"r":5.64},{"t":2008.964,"r":5.44},{"t":2008.983,"r":5.32},{"t":2009.002,"r":5.23},{"t":2009.02,"r":5.11},{"t":2009.039,"r":4.79},{"t":2009.057,"r":5.03},{"t":2009.076,"r":5.15},{"t":2009.095,"r":4.89},{"t":2009.113,"r":4.87},{"t":2009.132,"r":4.89},{"t":2009.15,"r":4.89},{"t":2009.169,"r":4.93},{"t":2009.188,"r":4.99},{"t":2009.206,"r":5.03},{"t":2009.225,"r":5.01},{"t":2009.243,"r":4.99},{"t":2009.262,"r":4.95},{"t":2009.281,"r":4.89},{"t":2009.299,"r":4.72},{"t":2009.318,"r":4.62},{"t":2009.336,"r":4.58},{"t":2009.355,"r":4.62},{"t":2009.374,"r":4.52},{"t":2009.392,"r":4.44},{"t":2009.411,"r":4.62},{"t":2009.429,"r":4.81},{"t":2009.448,"r":4.86},{"t":2009.467,"r":4.83},{"t":2009.485,"r":4.79},
{"t":2009.499,"r":4.69},{"t":2009.518,"r":4.65},{"t":2009.537,"r":4.65},{"t":2009.557,"r":4.58},{"t":2009.576,"r":4.53},{"t":2009.595,"r":4.37},{"t":2009.614,"r":4.33},{"t":2009.633,"r":4.20},{"t":2009.652,"r":4.04},{"t":2009.672,"r":3.94},{"t":2009.691,"r":4.06},{"t":2009.71,"r":4.32},{"t":2009.729,"r":4.31},{"t":2009.748,"r":4.39},{"t":2009.767,"r":4.41},{"t":2009.787,"r":4.40},{"t":2009.806,"r":4.35},{"t":2009.825,"r":4.33},{"t":2009.844,"r":4.24},{"t":2009.863,"r":4.19},{"t":2009.883,"r":4.18},{"t":2009.902,"r":4.21},{"t":2009.921,"r":4.25},{"t":2009.94,"r":4.31},{"t":2009.959,"r":4.31},{"t":2009.978,"r":4.30},{"t":2009.998,"r":4.39},{"t":2010.017,"r":4.36},{"t":2010.036,"r":4.34},{"t":2010.055,"r":4.38},{"t":2010.074,"r":4.36},{"t":2010.094,"r":4.34},{"t":2010.113,"r":4.33},{"t":2010.132,"r":4.32},{"t":2010.151,"r":4.44},{"t":2010.17,"r":4.44},{"t":2010.189,"r":4.45},{"t":2010.209,"r":4.43},{"t":2010.228,"r":4.37},{"t":2010.247,"r":4.37},{"t":2010.266,"r":4.29},{"t":2010.285,"r":4.32},{"t":2010.304,"r":4.27},{"t":2010.324,"r":4.28},{"t":2010.343,"r":4.28},{"t":2010.362,"r":4.37},{"t":2010.381,"r":4.40},{"t":2010.4,"r":4.40},{"t":2010.42,"r":4.38},{"t":2010.439,"r":4.36},{"t":2010.458,"r":4.37},{"t":2010.477,"r":4.26},{"t":2010.496,"r":4.21},{"t":2010.515,"r":4.16}
]},
"layer": [
{
"data": {"name": "rates"},
"mark": {"type": "line", "color": "#4A7EBB", "strokeWidth": 2.75, "strokeJoin": "round"},
"encoding": {
"x": {"field": "t", "type": "quantitative",
"scale": {"domain": [1985.583, 2010.583], "nice": false, "zero": false},
"axis": {"title": null, "grid": false, "values": [1985.583, 1990.583, 1995.583, 2000.583, 2005.583, 2010.583], "labelExpr": "'Aug-' + format(floor(datum.value) % 100, '02d')", "labelFontSize": 33, "labelPadding": 34, "tickSize": 11, "tickWidth": 2, "domainWidth": 2, "labelFlush": false, "labelOverlap": false, "labelBound": false}},
"y": {"field": "r", "type": "quantitative",
"scale": {"domain": [3.5, 13.5], "nice": false, "zero": false},
"axis": {"title": "Interest Rate", "values": [3.5, 4.5, 5.5, 6.5, 7.5, 8.5, 9.5, 10.5, 11.5, 12.5, 13.5], "labelExpr": "format(datum.value, '.2f') + '%'", "labelFontSize": 33, "labelPadding": 26, "tickSize": 10, "tickWidth": 2, "domainWidth": 2, "grid": true, "gridWidth": 1.8, "labelOverlap": false, "labelFlush": false, "titleFontSize": 33, "titleFontWeight": "bold", "titleX": -203, "titleY": 386, "titleAngle": -90, "titleBaseline": "middle", "titleAlign": "center"}}
}
},
{
"layer": [
{
"data": {"values": [{}]},
"mark": {"type": "rect", "fill": "white", "stroke": "#F79646", "strokeWidth": 2},
"encoding": {
"x": {"datum": 2009.255, "type": "quantitative"},
"x2": {"datum": 2010.578},
"y": {"datum": 3.423, "type": "quantitative"},
"y2": {"datum": 5.051}
}
},
{
"data": {"name": "rates"},
"transform": [{"filter": "datum.t >= 2009.49"}],
"mark": {"type": "line", "color": "#4A7EBB", "strokeWidth": 2.25, "strokeJoin": "round"},
"encoding": {
"x": {"field": "t", "type": "quantitative",
"scale": {"domain": [2009.499, 2010.515], "range": [640.9, 1310.9], "nice": false, "zero": false},
"axis": {"orient": "bottom", "offset": -561.3, "title": null, "grid": false, "values": [2009.499, 2009.836, 2010.164, 2010.499], "labelExpr": "datum.value < 2009.6 ? 'Jul-09' : datum.value < 2010 ? 'Nov-09' : datum.value < 2010.3 ? 'Mar-10' : 'Jul-10'", "labelFontSize": 27, "labelPadding": 28.5, "tickSize": 10, "tickWidth": 2, "domainWidth": 2, "labelFlush": false, "labelOverlap": false, "labelBound": false, "zindex": 1}},
"y": {"field": "r", "type": "quantitative",
"scale": {"domain": [3.75, 4.75], "range": [255.3, -15.1], "nice": false, "zero": false},
"axis": {"orient": "left", "offset": -640.9, "title": "Interest Rate", "values": [3.75, 4, 4.25, 4.5, 4.75], "labelExpr": "format(datum.value, '.2f') + '%'", "labelFontSize": 26.5, "labelPadding": 18.5, "tickSize": 10, "tickWidth": 2, "domainWidth": 2, "grid": true, "gridWidth": 1.8, "labelOverlap": false, "labelFlush": false, "titleFontSize": 19, "titleFontWeight": "bold", "titleX": -138.7, "titleY": 134.3, "titleAngle": -90, "titleBaseline": "middle", "titleAlign": "center", "zindex": 1}}
}
},
{
"data": {"values": [{}]},
"mark": {"type": "text", "text": "One-Year Snapshot", "font": "Lato", "fontSize": 30, "fontWeight": "bold", "color": "#000000", "align": "center", "baseline": "alphabetic"},
"encoding": {
"x": {"datum": 2009.916, "type": "quantitative"},
"y": {"datum": 4.858, "type": "quantitative"}
}
}
]
}
],
"resolve": {"scale": {"x": "independent", "y": "independent"}, "axis": {"x": "independent", "y": "independent"}}
}
